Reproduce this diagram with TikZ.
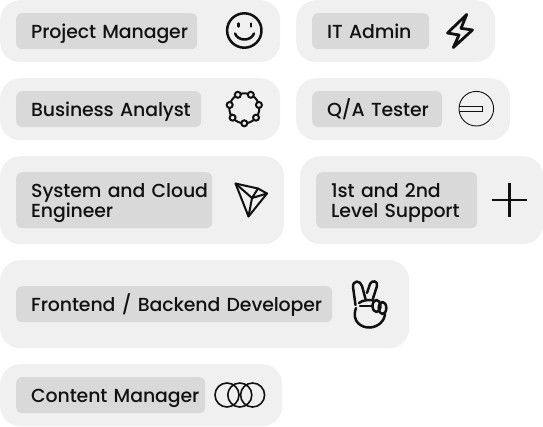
\documentclass[tikz,border=0pt]{standalone}
\usepackage{fontspec}
\usetikzlibrary{calc}
\setmainfont[LetterSpace=-0.6,WordSpace=0.45]{Poppins Medium}
\definecolor{cardgrey}{HTML}{F0F0F0}
\definecolor{labelgrey}{HTML}{D9D9D9}
\definecolor{ink}{HTML}{111111}
\newcommand{\ind}{\hspace*{15pt}}
\tikzset{
  card/.style={fill=cardgrey,rounded corners=20pt,anchor=north west,inner sep=0pt,minimum height=#1},
  labelbox/.style={fill=labelgrey,rounded corners=6pt,anchor=north west,inner sep=0pt,
    align=left,text=ink,text width=#1,font=\fontsize{18.9}{20}\selectfont},
  oneline/.style={text height=25pt,text depth=11pt},
  twoline/.style={text height=25pt,text depth=31pt},
  icon/.style={draw=ink,line width=2.5pt,line join=round,line cap=round},
  thinicon/.style={draw=ink,line width=0.9pt},
}
\begin{document}
\begin{tikzpicture}[x=1pt,y=-1pt]
\useasboundingbox (0,0) rectangle (543,426);
\node[card=62pt,minimum width=280pt] (c1) at (0,0) {};
\node[card=62pt,minimum width=199pt] (c2) at (296,0) {};
\node[card=62pt,minimum width=280pt] (c3) at (0,78) {};
\node[card=62pt,minimum width=214pt] (c4) at (296,78) {};
\node[card=88pt,minimum width=284pt] (c5) at (0,156) {};
\node[card=88pt,minimum width=243pt] (c6) at (300,156) {};
\node[card=88pt,minimum width=409pt] (c7) at (0,260) {};
\node[card=62pt,minimum width=282pt] (c8) at (0,364) {};
\node[labelbox=181pt,oneline] (l1) at (16,13) {\ind Project Manager};
\node[labelbox=117pt,oneline] (l2) at (312,13) {\ind IT Admin};
\node[labelbox=185pt,oneline] (l3) at (16,91) {\ind Business Analyst};
\node[labelbox=130pt,oneline] (l4) at (312,91) {\ind Q/A Tester};
\node[labelbox=196pt,twoline] (l5) at (16,172) {\ind System and Cloud\\\ind Engineer};
\node[labelbox=161pt,twoline] (l6) at (316,172) {\ind 1st and 2nd\\\ind Level Support};
\node[labelbox=316pt,oneline] (l7) at (16,286) {\ind Frontend / Backend Developer};
\node[labelbox=189pt,oneline] (l8) at (16,377) {\ind Content Manager};
% smiley
\draw[icon] (244.3,30.5) circle (17.2);
\draw[icon] (238.5,23.5) -- (238.5,26.5) (251,23.5) -- (251,26.5);
\draw[icon] (235,33.5) .. controls (238,41.5) and (251,41.5) .. (254,33.5);
% bolt
\draw[icon,line width=2.8pt] (466.7,14.5) -- (447.5,33) -- (459,35) -- (453.3,47.5) -- (472.5,30) -- (461,28.3) -- cycle;
% ring
\draw[draw=ink,line width=2pt] (244.3,108.3) circle (15);
\foreach \a in {90,141.4,192.9,244.3,295.7,347.1,38.6}
  \draw[draw=ink,line width=2pt,fill=cardgrey] ($(244.3,108.3)+(\a:15)$) circle (3);
% slot circle
\draw[thinicon] (476.3,108.7) circle (17.3);
\draw[thinicon] (459.3,106) -- (482.7,106) -- (482.7,111) -- (459.3,111);
% tron
\draw[icon,line width=2pt] (235.5,183.5) -- (258,188.5) -- (267,193.5) -- (248.5,216.5) -- cycle;
\draw[icon,line width=2pt] (235.5,183.5) -- (252,198) -- (248.5,216.5) (252,198) -- (267,193.5) (252,198) -- (258,188.5);
% plus
\draw[draw=ink,line width=2.6pt] (509.3,182.7) -- (509.3,216.7) (491.7,200) -- (526.7,200);
% peace hand
\draw[icon] (355.5,305) -- (353,287) .. controls (352.5,280) and (360.5,280) .. (362,286) -- (365.5,299)
  (367,293) -- (370,284) .. controls (372,279.5) and (378.5,281) .. (377,286) -- (372.5,300);
\draw[icon] (360,306) -- (372,306);
\draw[icon] (359,303) .. controls (362,300) and (370,299.5) .. (374,300.5);
\draw[icon] (356,308) .. controls (351,322) and (362,328) .. (370,327.5) .. controls (378,327) and (385,321) .. (385,313);
\draw[icon] (376.5,306) ellipse (4 and 6);
\draw[icon] (382.5,308) ellipse (3.8 and 6);
% venn
\draw[draw=ink,line width=1.6pt] (227,395) circle (12) (239.8,395) circle (12) (252.6,395) circle (12);
\end{tikzpicture}
\end{document}
